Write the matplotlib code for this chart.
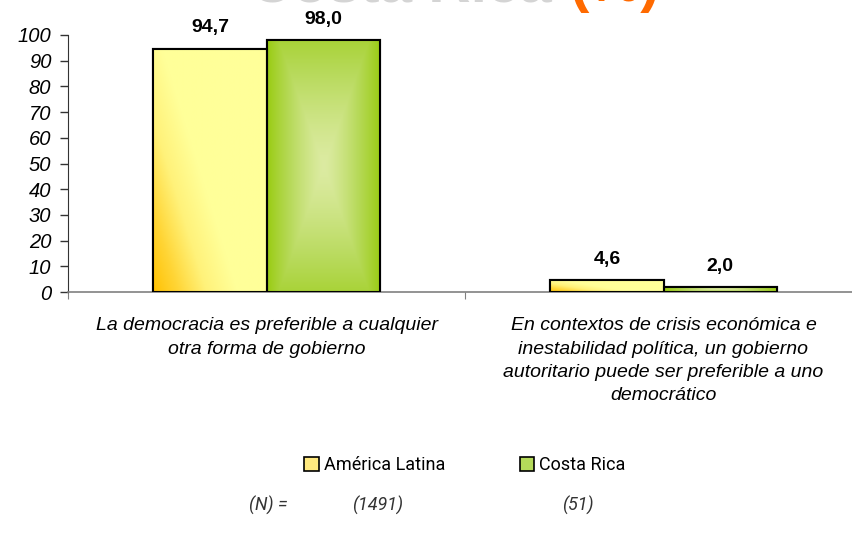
import numpy as np
import matplotlib
matplotlib.use("Agg")
import matplotlib.pyplot as plt
from matplotlib.colors import LinearSegmentedColormap
from matplotlib.patches import Patch

# --- data ---
categories = [
    "La democracia es preferible a cualquier\notra forma de gobierno",
    "En contextos de crisis económica e\ninestabilidad política, un gobierno\nautoritario puede ser preferible a uno\ndemocrático",
]
series_names = ["América Latina", "Costa Rica"]
america_latina = [94.7, 4.6]
costa_rica = [98.0, 2.0]
n_labels = ["(1491)", "(51)"]
y_ticks = list(range(0, 101, 10))

plt.rcParams["font.family"] = ["Liberation Sans", "DejaVu Sans"]
cond = "Roboto"

fig = plt.figure(figsize=(8.52, 5.36), dpi=100)
ax = fig.add_axes([68 / 852, 1 - 292 / 536, 794 / 852, 257 / 536])

x = np.arange(len(categories))
w = 0.285

yellow_cmap = LinearSegmentedColormap.from_list("y", ["#FFC000", "#FFD535", "#FFF27A", "#FFFF99"])
green_cmap = LinearSegmentedColormap.from_list("g", ["#DCEBA2", "#B8DA5C", "#9ACC14"])

# gradient textures
gx, gy = np.meshgrid(np.linspace(0, 1, 120), np.linspace(0, 1, 200))
yellow_tex = np.clip(gx * 1.35 + gy * 0.9, 0, 1) ** 0.9
green_tex = np.clip(np.maximum(np.abs(gx - 0.5) * 2.0, np.abs(gy - 0.5) * 1.6) ** 1.3, 0, 1)

bars_al = ax.bar(x - w / 2, america_latina, w, color="#FFE97F", edgecolor="black", linewidth=1.5, zorder=2)
bars_cr = ax.bar(x + w / 2, costa_rica, w, color="#B5DA5A", edgecolor="black", linewidth=1.5, zorder=2)

for bars, tex, cmap in [(bars_al, yellow_tex, yellow_cmap), (bars_cr, green_tex, green_cmap)]:
    for b in bars:
        x0, y0 = b.get_x(), b.get_y()
        im = ax.imshow(tex, cmap=cmap, origin="lower", aspect="auto", vmin=0, vmax=1,
                       extent=[x0, x0 + b.get_width(), y0, y0 + b.get_height()], zorder=2.5)
        im.set_clip_path(b)
        edge = plt.Rectangle((x0, y0), b.get_width(), b.get_height(), fill=False,
                             edgecolor="black", linewidth=1.5, zorder=3)
        ax.add_patch(edge)

for bars, vals in [(bars_al, america_latina), (bars_cr, costa_rica)]:
    for b, v in zip(bars, vals):
        ax.annotate(f"{v:.1f}".replace(".", ","), (b.get_x() + b.get_width() / 2, v),
                    xytext=(0, 15), textcoords="offset points", ha="center", va="center",
                    fontsize=14, fontweight="bold")

ax.set_xlim(-0.5, 1.5)
ax.set_ylim(0, 100)
ax.set_yticks(y_ticks)
ax.set_yticklabels([str(t) for t in y_ticks], fontsize=14.5, style="italic")
ax.tick_params(axis="y", direction="out", length=6, width=1, color="#333333", pad=6)

ax.set_xticks([-0.5, 0.5, 1.5])
ax.set_xticklabels([])
ax.tick_params(axis="x", which="major", direction="out", length=5, color="#808080")
ax.set_xticks(x, minor=True)
ax.set_xticklabels(categories, minor=True, fontsize=14, style="italic", linespacing=1.5)
ax.tick_params(axis="x", which="minor", length=0, pad=18)

for s in ["top", "right"]:
    ax.spines[s].set_visible(False)
ax.spines["left"].set_color("#333333")
ax.spines["bottom"].set_color("#808080")
ax.spines["bottom"].set_linewidth(1.2)

# title, clipped at the top of the picture
fig.text(250 / 852, 1 - 1 / 536, "Costa Rica", fontsize=42, fontweight="bold",
         color="#D4D4D4", ha="left", va="baseline")
fig.text(569 / 852, 1 - 1 / 536, "(%)", fontsize=42, fontweight="bold",
         color="#FF6A00", ha="left", va="baseline")

handles = [Patch(facecolor="#FFE97F", edgecolor="black", linewidth=1.2),
           Patch(facecolor="#B5DA5A", edgecolor="black", linewidth=1.2)]
fig.legend(handles, series_names, loc="center", bbox_to_anchor=(465 / 852, 1 - 465 / 536),
           ncol=2, frameon=False, handlelength=0.8, handleheight=0.8, handletextpad=0.3,
           columnspacing=4.1, prop={"family": cond, "size": 13})

fig.text(268 / 852, 1 - 505 / 536, "(N) =", fontsize=13, style="italic", family=cond,
         color="#333333", ha="center", va="center")
for xpos, lab in zip([378, 578], n_labels):
    fig.text(xpos / 852, 1 - 505 / 536, lab, fontsize=13, style="italic", family=cond,
             color="#333333", ha="center", va="center")

fig.savefig("out.png", dpi=100)
